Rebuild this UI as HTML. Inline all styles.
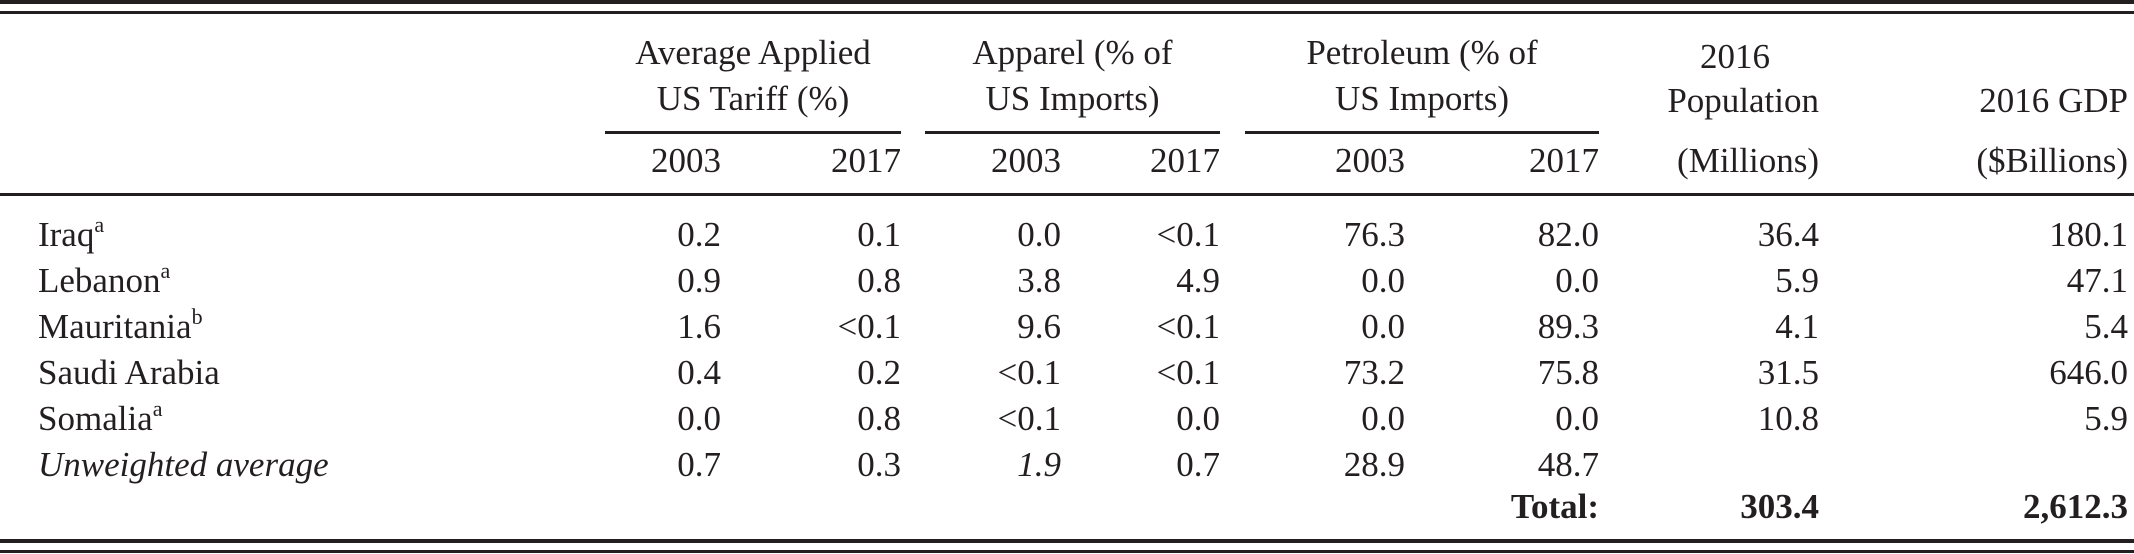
<!DOCTYPE html>
<html><head><meta charset="utf-8"><style>
html,body{margin:0;padding:0;background:#fff}
#t{position:relative;width:2134px;height:554px;font-family:"Liberation Serif",serif;font-size:35px;color:#231f20;overflow:hidden}
.r{position:absolute;height:3px;background:#231f20}
.c{position:absolute;white-space:nowrap;line-height:46px}
.rt{text-align:right}
.ct{text-align:center}
sup{font-size:22px;vertical-align:14px;line-height:0}
</style></head><body>
<div id="t">
<div class="r" style="left:0;width:2134px;top:0px;height:4px"></div>
<div class="r" style="left:0;width:2134px;top:11px;height:3px"></div>
<div class="r" style="left:0;width:2134px;top:193px;height:3px"></div>
<div class="r" style="left:0;width:2134px;top:539px;height:4px"></div>
<div class="r" style="left:0;width:2134px;top:550px;height:3px"></div>
<div class="r" style="left:605px;width:296px;top:131px"></div>
<div class="r" style="left:925px;width:295px;top:131px"></div>
<div class="r" style="left:1245px;width:354px;top:131px"></div>

<div class="c ct" style="left:605px;width:296px;top:30px">Average Applied<br>US Tariff (%)</div>
<div class="c ct" style="left:925px;width:295px;top:30px">Apparel (% of<br>US Imports)</div>
<div class="c ct" style="left:1245px;width:354px;top:30px">Petroleum (% of<br>US Imports)</div>
<div class="c ct" style="left:1635px;width:200px;top:34px">2016</div>
<div class="c rt" style="left:1600px;width:219px;top:78px">Population</div>
<div class="c rt" style="left:1600px;width:219px;top:138px">(Millions)</div>
<div class="c rt" style="left:1850px;width:278px;top:78px">2016 GDP</div>
<div class="c rt" style="left:1850px;width:278px;top:138px">($Billions)</div>
</div>
<script>
const yearLabels=["2003","2017","2003","2017","2003","2017"];
const countries=["Iraq","Lebanon","Mauritania","Saudi Arabia","Somalia","Unweighted average"];
const notes=["a","a","b","","a",""];
const tariff03=["0.2","0.9","1.6","0.4","0.0","0.7"];
const tariff17=["0.1","0.8","<0.1","0.2","0.8","0.3"];
const apparel03=["0.0","3.8","9.6","<0.1","<0.1","1.9"];
const apparel17=["<0.1","4.9","<0.1","<0.1","0.0","0.7"];
const petro03=["76.3","0.0","0.0","73.2","0.0","28.9"];
const petro17=["82.0","0.0","89.3","75.8","0.0","48.7"];
const population=["36.4","5.9","4.1","31.5","10.8",""];
const gdp=["180.1","47.1","5.4","646.0","5.9",""];
const totals=["Total:","303.4","2,612.3"];
const colRight=[721,901,1061,1220,1405,1599,1819,2128];
const t=document.getElementById('t');
function cell(txt,right,top,name,extra){
  const d=document.createElement('div');
  d.className='c rt';
  d.style.left=(right-300)+'px';d.style.width='300px';d.style.top=top+'px';
  if(extra)d.style.cssText+=extra;
  d.textContent=txt;
  
  
  t.appendChild(d);return d;
}
yearLabels.forEach((y,i)=>{cell(y,colRight[i],138,'year-label');});
const cols=[tariff03,tariff17,apparel03,apparel17,petro03,petro17,population,gdp];
countries.forEach((c,r)=>{
  const top=212+r*46;
  const d=document.createElement('div');
  d.className='c';d.style.left='38px';d.style.top=top+'px';
  if(r===5)d.style.fontStyle='italic';
  d.innerHTML=c+(notes[r]?'<sup>'+notes[r]+'</sup>':'');
  
  
  t.appendChild(d);
  cols.forEach((arr,i)=>{if(arr[r])cell(arr[r],colRight[i],top,'data-cell',(r===5&&i===2)?'font-style:italic':'');});
});
const tt=212+6*46-4;
cell(totals[0],colRight[5],tt,'total-label','font-weight:bold');
cell(totals[1],colRight[6],tt,'total-population','font-weight:bold');
cell(totals[2],colRight[7],tt,'total-gdp','font-weight:bold');
</script>
</body></html>
